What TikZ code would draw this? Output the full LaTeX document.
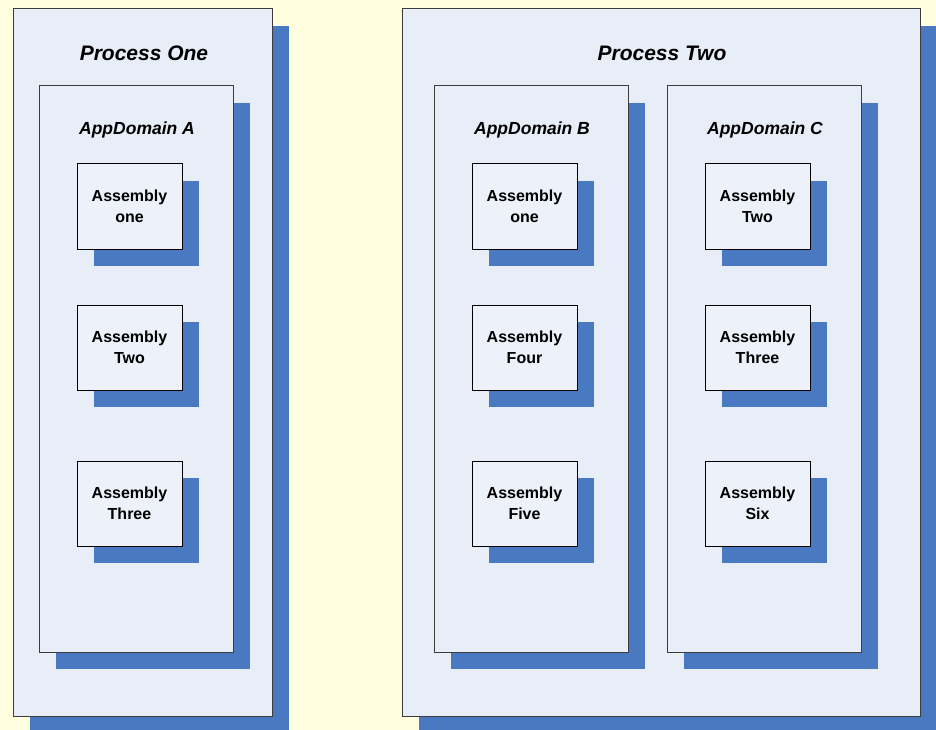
\documentclass[tikz,border=0pt]{standalone}
\usepackage{fontspec}
\setmainfont{Liberation Sans}
\usetikzlibrary{shadows}
\definecolor{paper}{RGB}{255,255,224}
\definecolor{panel}{RGB}{232,238,248}
\definecolor{chip}{RGB}{236,241,250}
\definecolor{shade}{RGB}{72,121,193}
\definecolor{rim}{RGB}{60,60,60}
\tikzset{
  boxbase/.style={rectangle, anchor=north west, inner sep=0pt, outer sep=0pt,
    line width=1pt, copy shadow={shadow xshift=17pt, shadow yshift=-17pt, fill=shade, draw=none}},
  processbox/.style={boxbase, draw=rim, fill=panel, minimum width=259pt, minimum height=707pt},
  processwide/.style={processbox, minimum width=518pt},
  appdomainbox/.style={boxbase, draw=rim, fill=panel, minimum width=194pt, minimum height=566pt},
  assemblybox/.style={boxbase, draw=black, fill=chip, minimum width=105pt, minimum height=85pt,
    align=center, font=\fontsize{16}{21.5}\selectfont\bfseries},
  ptitle/.style={font=\fontsize{21}{25}\selectfont\bfseries\itshape, inner sep=0pt},
  dtitle/.style={font=\fontsize{17.5}{21}\selectfont\bfseries\itshape, inner sep=0pt}
}
\begin{document}
\begin{tikzpicture}[x=1pt, y=-1pt]
  \fill[paper] (0,0) rectangle (936,730);
  \useasboundingbox (0,0) rectangle (936,730);

  % processes
  \node[processbox] (p1) at (13,9) {};
  \node[processwide] (p2) at (402,9) {};
  \node[ptitle] (p1t) at (144,53) {Process One};
  \node[ptitle] (p2t) at (662,53) {Process Two};

  % application domains
  \node[appdomainbox] (da) at (39,86) {};
  \node[appdomainbox] (db) at (434,86) {};
  \node[appdomainbox] (dc) at (667,86) {};
  \node[dtitle] (dat) at (137,130) {AppDomain A};
  \node[dtitle] (dbt) at (532,130) {AppDomain B};
  \node[dtitle] (dct) at (765,130) {AppDomain C};

  % assemblies loaded in each domain
  \node[assemblybox] (a1) at (77,164) {Assembly\\one};
  \node[assemblybox] (a2) at (77,305) {Assembly\\Two};
  \node[assemblybox] (a3) at (77,461) {Assembly\\Three};

  \node[assemblybox] (b1) at (472,164) {Assembly\\one};
  \node[assemblybox] (b2) at (472,305) {Assembly\\Four};
  \node[assemblybox] (b3) at (472,461) {Assembly\\Five};

  \node[assemblybox] (c1) at (705,164) {Assembly\\Two};
  \node[assemblybox] (c2) at (705,305) {Assembly\\Three};
  \node[assemblybox] (c3) at (705,461) {Assembly\\Six};
\end{tikzpicture}
\end{document}
